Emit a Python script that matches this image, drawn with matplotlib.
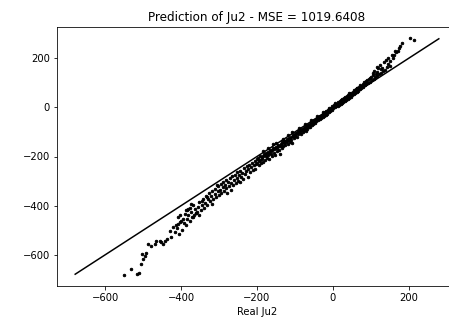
import numpy as np
import matplotlib
matplotlib.use("Agg")
import matplotlib.pyplot as plt

# real vs predicted Ju2, in pieces along the band
real_low = [
    -552, -533, -516, -512, -505, -501, -504, -494, -497, -488, -479, -470, -466, -457,
    -453, -448, -444, -437, -428, -430, -422, -417, -413, -409, -404, -400, -409, -402,
    -395, -391, -387, -382, -398, -392, -388, -384, -378, -372, -366, -360, -411, -406,
    -386, -381, -376, -373, -370, -368, -365, -362, -357, -354, -352, -349, -346, -343,
    -340, -338, -335, -332, -330, -327, -324, -321, -318, -315, -312, -310, -307, -304,
    -302, -300, -374, -358, -344, -333, -319, -306,
]
pred_low = [
    -683, -658, -681, -676, -638, -617, -597, -594, -604, -556, -563, -556, -545, -543,
    -549, -556, -543, -536, -529, -502, -488, -508, -481, -474, -468, -461, -447, -440,
    -454, -433, -420, -413, -500, -470, -480, -455, -462, -445, -438, -430, -492, -515,
    -420, -438, -410, -425, -398, -445, -415, -432, -405, -440, -385, -418, -398, -372,
    -412, -390, -362, -398, -375, -350, -382, -360, -340, -372, -352, -332, -365, -342,
    -322, -355, -392, -428, -380, -366, -392, -318,
]

real_mid = [
    -298, -296, -294, -291, -289, -288, -285, -283, -281, -279, -276, -274, -271, -269,
    -268, -265, -263, -261, -259, -256, -254, -253, -250, -248, -246, -244, -241, -239,
    -236, -234, -232, -229, -227, -225, -223, -221, -219, -216, -214, -211, -209, -206,
    -204, -203, -201,
    -199, -197, -195, -193, -191, -189, -187, -185, -183, -181, -179, -177, -175, -173,
    -171, -170, -168, -166, -164, -162, -160, -158, -156, -154, -152, -150, -148, -146,
    -144, -142, -140, -139, -137, -135, -133, -131, -129, -127, -125, -123, -121, -119,
    -117, -115, -113, -111, -109, -107, -105, -103, -101,
    -196, -188, -178, -169, -161, -153, -145, -136, -128, -120, -112, -104,
    -184, -172, -158, -149, -132, -118, -108,
]
pred_mid = [
    -338, -312, -350, -326, -305, -341, -318, -296, -330, -348, -302, -322, -289, -335,
    -310, -281, -318, -296, -276, -309, -287, -262, -298, -275, -304, -259, -283, -266,
    -292, -248, -271, -258, -240, -282, -252, -235, -262, -244, -226, -255, -236, -218,
    -249, -230, -212,
    -228, -207, -236, -214, -199, -225, -210, -196, -221, -190, -214, -199, -186, -207,
    -181, -195, -209, -175, -190, -179, -199, -166, -184, -171, -192, -160, -178, -166,
    -152, -174, -157, -188, -148, -165, -141, -159, -146, -135, -154, -140, -129, -150,
    -133, -124, -141, -119, -132, -143, -114, -126, -110,
    -218, -203, -192, -184, -172, -165, -158, -153, -137, -138, -127, -118,
    -176, -166, -149, -143, -127, -112, -102,
]

real_high = [
    -99, -97, -95, -93, -91, -89, -87, -85, -83, -81, -79, -77, -75, -73, -71, -69, -67,
    -65, -63, -61, -59, -57, -55, -53, -51, -49, -47, -45, -43, -41, -39, -37, -35, -33,
    -31, -29, -27, -25, -23, -21, -19, -17, -15, -13, -11, -9, -7, -5, -3, -1,
    -94, -86, -78, -70, -62, -54, -46, -38, -30, -22, -14, -6,
    -90, -74, -58, -42, -26, -10,
    1, 3, 5, 7, 9, 11, 13, 15, 17, 19, 21, 23, 25, 27, 29, 31, 33, 35, 37, 39, 41, 43,
    45, 47, 49, 51, 53, 55, 57, 59, 61, 63, 65, 67, 69, 71, 73, 75, 77, 79, 81, 83, 85,
    87, 89, 91, 93, 95, 97, 99,
    10, 20, 30, 40, 50, 60, 70, 80, 90,
    6, 24, 44, 64, 84,
]
pred_high = [
    -115, -104, -121, -97, -110, -99, -91, -108, -93, -87, -101, -83, -92, -79, -94, -75,
    -86, -72, -81, -66, -78, -61, -70, -57, -66, -52, -62, -48, -57, -44, -53, -38, -49,
    -36, -44, -31, -40, -27, -34, -19, -29, -16, -25, -12, -20, -6, -15, -2, -11, 4,
    -104, -99, -90, -82, -73, -63, -55, -46, -37, -27, -18, -9,
    -84, -68, -52, -36, -20, -3,
    -4, 9, 1, 14, 4, 16, 7, 21, 11, 26, 15, 30, 20, 24, 38, 27, 42, 31, 47, 36, 51, 40,
    56, 44, 58, 49, 65, 54, 70, 57, 74, 62, 80, 68, 83, 74, 90, 78, 86, 97, 84, 102, 90,
    107, 94, 111, 98, 116, 103, 121,
    12, 22, 33, 44, 55, 66, 76, 90, 100,
    17, 36, 58, 79, 100,
]

real_top = [
    102, 104, 106, 108, 110, 112, 114, 116, 118, 120, 122, 125, 128, 130, 133, 136, 138,
    140, 143, 147, 150, 152, 156, 158, 162, 165, 168, 172, 174, 178, 182, 203, 214,
    107, 118, 127, 145,
]
pred_top = [
    125, 112, 132, 118, 150, 124, 136, 166, 128, 160, 138, 172, 142, 160, 148, 185, 152,
    195, 165, 200, 168, 190, 214, 200, 215, 230, 225, 232, 241, 250, 261, 282, 277,
    142, 146, 155, 178,
]

real_ju2 = real_low + real_mid + real_high + real_top
pred_ju2 = pred_low + pred_mid + pred_high + pred_top

line_min, line_max = -680, 280

fig = plt.figure(figsize=(449 / 72, 327 / 72), dpi=72)
ax = fig.add_axes([57 / 449, 41 / 327, 400 / 449, 259 / 327])
ax.scatter(real_ju2, pred_ju2, s=6, c="black")
ax.plot([line_min, line_max], [line_min, line_max], color="black", linewidth=1.5)
ax.set_xlim(-728, 328)
ax.set_ylim(-728, 328)
ax.set_xticks([-600, -400, -200, 0, 200])
ax.set_yticks([-600, -400, -200, 0, 200])
ax.set_xlabel("Real Ju2")
ax.set_title("Prediction of Ju2 - MSE = 1019.6408")
fig.savefig("out.png", dpi=72)
